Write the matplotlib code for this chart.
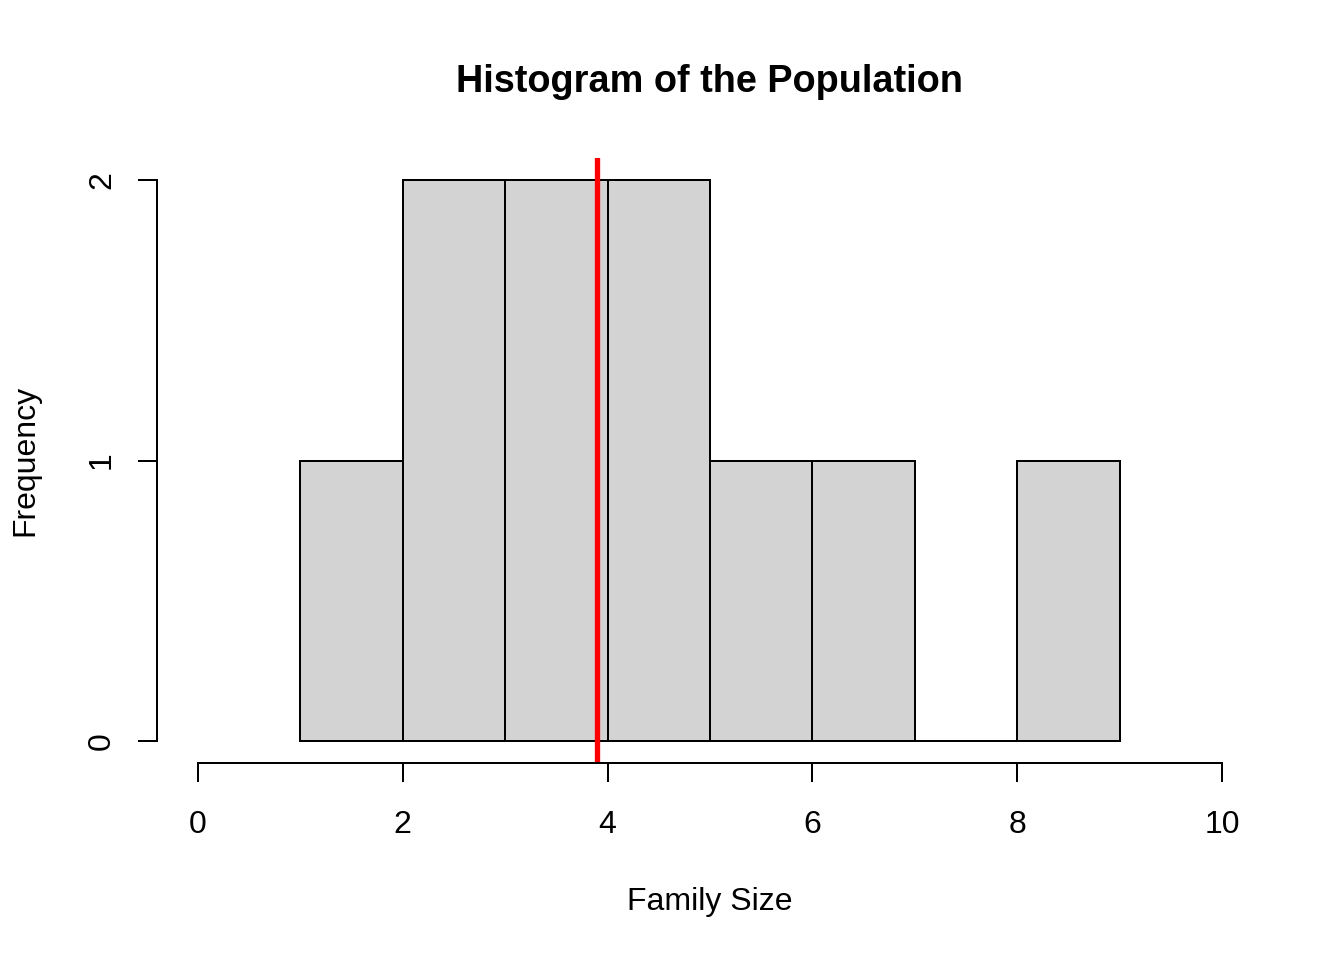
import matplotlib
matplotlib.use("Agg")
import matplotlib.pyplot as plt

# histogram of family sizes (bin edges and counts)
bin_edges = [1, 2, 3, 4, 5, 6, 7, 8, 9]
counts = [1, 2, 2, 2, 1, 1, 0, 1]
mean_line = 3.9

x_ticks = [0, 2, 4, 6, 8, 10]
y_ticks = [0, 1, 2]

plt.rcParams['font.family'] = ['Liberation Sans', 'DejaVu Sans']

W, H = 1344, 960
fig = plt.figure(figsize=(7, 5), dpi=192)
ax = fig.add_axes([157 / W, 1 - 763.4 / H, (1263 - 157) / W, (763.4 - 157.6) / H])

lefts = bin_edges[:-1]
widths = [b - a for a, b in zip(bin_edges[:-1], bin_edges[1:])]
ax.bar(lefts, counts, width=widths, align='edge', color='#D3D3D3',
       edgecolor='black', linewidth=0.75)
ax.axvline(mean_line, color='red', linewidth=2)

ax.set_xlim(-0.4, 10.4)
ax.set_ylim(-0.08, 2.08)

for s in ['top', 'right']:
    ax.spines[s].set_visible(False)
ax.spines['left'].set_bounds(0, 2)
ax.spines['bottom'].set_bounds(0, 10)
ax.spines['left'].set_linewidth(0.75)
ax.spines['bottom'].set_linewidth(0.75)

ax.set_xticks(x_ticks)
ax.set_yticks(y_ticks)
ax.set_yticklabels([str(v) for v in y_ticks], rotation=90, va='center')
ax.tick_params(axis='both', direction='out', length=7, width=0.75,
               labelsize=12, pad=8)
ax.tick_params(axis='x', pad=10.6)

fig.text(710 / W, 1 - 82 / H, 'Histogram of the Population', ha='center',
         va='center', fontsize=14.2, fontweight='bold')
fig.text(710 / W, 1 - 902 / H, 'Family Size', ha='center', va='center',
         fontsize=12)
fig.text(25 / W, 1 - 460.5 / H, 'Frequency', ha='center', va='center',
         fontsize=12, rotation=90)

fig.savefig('out.png', dpi=192)
